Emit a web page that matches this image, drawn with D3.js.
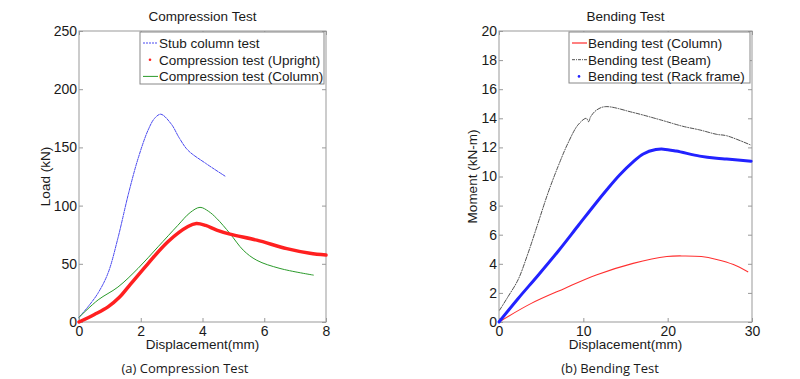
<!DOCTYPE html>
<html lang="en">
<head>
    <meta charset="UTF-8">
    <title>Compression and Bending Tests</title>
    <script src="https://d3js.org/d3.v7.min.js"></script>
    <style>
        body { margin: 0; background: #fff; }
        svg { display: block; }
        .tick text { font-family: "Liberation Sans", Arial, sans-serif; font-size: 14px; fill: #1a1a1a; }
        .tick line { stroke: #999; }
        .lbl { font-family: "Liberation Sans", Arial, sans-serif; font-size: 13.5px; fill: #1a1a1a; }
        .cap { font-family: "Open Sans", Lato, sans-serif; font-size: 13px; fill: #1a1a1a; }
    </style>
</head>
<body>
<div id="chart"></div>
<script>
    // ---- compression test data (displacement mm, load kN) ----
    var stubX = [0, 0.29, 0.62, 0.94, 1.26, 1.6, 1.92, 2.24, 2.45, 2.65, 2.99, 3.25, 3.53, 4.12, 4.75];
    var stubY = [4, 13, 25, 42, 72, 110, 141, 165, 175, 178.5, 170, 158, 147.5, 136, 125];

    var uprightX = [0, 0.5, 0.94, 1.3, 1.59, 2.23, 2.88, 3.53, 3.8, 4.1, 4.46, 4.89, 5.76, 6.73, 7.48, 8.0];
    var uprightY = [0, 6.5, 13, 21, 30, 50, 69, 82, 84.6, 83, 79, 75.5, 70.3, 63, 59, 57.5];

    var columnX = [0, 0.62, 1.26, 1.91, 2.56, 3.2, 3.6, 3.92, 4.2, 4.46, 4.89, 5.32, 5.76, 6.51, 7.59];
    var columnY = [4, 19, 30, 46, 64.6, 83, 94, 98.5, 95, 89, 76, 61.7, 53, 46, 40.3];

    // ---- bending test data (displacement mm, moment kN-m) ----
    var bendColX = [0, 3.83, 7.78, 11.53, 15.9, 19.9, 22, 24, 25.8, 27.8, 29.5];
    var bendColY = [0, 1.28, 2.31, 3.23, 4.03, 4.5, 4.54, 4.5, 4.3, 3.95, 3.45];

    var beamX = [0.08, 1.07, 2.25, 3.44, 4.62, 5.8, 6.99, 8.17, 9.36, 10.34, 10.63, 10.86, 11.53, 12.6, 15.9, 19.1, 21.8, 23.8, 25.8, 27, 29.9];
    var beamY = [0.82, 1.74, 2.89, 4.72, 6.78, 8.85, 10.67, 12.28, 13.54, 14.0, 13.77, 14.1, 14.55, 14.8, 14.4, 13.9, 13.45, 13.2, 12.9, 12.8, 12.15];

    var rackX = [0, 2.25, 4.62, 6.99, 9.36, 11.53, 12.76, 14.3, 15.9, 17.1, 18.6, 19.5, 21, 23.8, 25.8, 27, 29.9];
    var rackY = [0, 1.6, 3.2, 4.85, 6.6, 8.2, 9.07, 10.1, 11.0, 11.55, 11.85, 11.88, 11.75, 11.4, 11.25, 11.2, 11.05];

    var compTicksX = [0, 2, 4, 6, 8];
    var compTicksY = [0, 50, 100, 150, 200, 250];
    var bendTicksX = [0, 10, 20, 30];
    var bendTicksY = [0, 2, 4, 6, 8, 10, 12, 14, 16, 18, 20];

    var compLegend = ['Stub column test', 'Compression test (Upright)', 'Compression test (Column)'];
    var bendLegend = ['Bending test (Column)', 'Bending test (Beam)', 'Bending test (Rack frame)'];

    function zip(xs, ys) {
        return xs.map(function (x, i) { return [x, ys[i]]; });
    }

    var svg = d3.select('#chart')
        .append('svg')
        .attr('width', 800)
        .attr('height', 379);

    svg.append('rect').attr('width', 800).attr('height', 379).attr('fill', '#fff');

    // draws one MATLAB style panel, returns scales + group
    function panel(opt) {
        var x = d3.scaleLinear().domain(opt.xDomain).range([opt.left, opt.right]);
        var y = d3.scaleLinear().domain(opt.yDomain).range([opt.bottom, opt.top]);
        var g = svg.append('g');

        g.append('g')
            .attr('transform', 'translate(0,' + opt.bottom + ')')
            .call(d3.axisBottom(x).tickValues(opt.xTicks).tickSize(-4).tickPadding(4).tickSizeOuter(0))
            .call(function (a) { a.select('.domain').remove(); });
        g.append('g')
            .attr('transform', 'translate(' + opt.left + ',0)')
            .call(d3.axisLeft(y).tickValues(opt.yTicks).tickSize(-4).tickPadding(2).tickSizeOuter(0))
            .call(function (a) { a.select('.domain').remove(); });
        g.append('g')
            .attr('transform', 'translate(0,' + opt.top + ')')
            .call(d3.axisTop(x).tickValues(opt.xTicks).tickSize(-4).tickFormat('').tickSizeOuter(0))
            .call(function (a) { a.select('.domain').remove(); });
        g.append('g')
            .attr('transform', 'translate(' + opt.right + ',0)')
            .call(d3.axisRight(y).tickValues(opt.yTicks).tickSize(-4).tickFormat('').tickSizeOuter(0))
            .call(function (a) { a.select('.domain').remove(); });

        g.append('rect')
            .attr('x', opt.left).attr('y', opt.top)
            .attr('width', opt.right - opt.left).attr('height', opt.bottom - opt.top)
            .attr('fill', 'none').attr('stroke', '#999').attr('stroke-width', 1);

        var cx = (opt.left + opt.right) / 2;
        g.append('text').attr('class', 'lbl').attr('text-anchor', 'middle')
            .attr('x', cx).attr('y', 21).text(opt.title);
        g.append('text').attr('class', 'lbl').attr('text-anchor', 'middle')
            .attr('x', cx).attr('y', 349).text('Displacement(mm)');
        g.append('text').attr('class', 'lbl').attr('text-anchor', 'middle')
            .attr('transform', 'translate(' + opt.yLabelX + ',' + ((opt.top + opt.bottom) / 2) + ') rotate(-90)')
            .text(opt.yLabel);
        g.append('text').attr('class', 'cap').attr('text-anchor', 'middle')
            .attr('x', opt.capX).attr('y', 373).text(opt.caption);

        return { x: x, y: y, g: g };
    }

    function drawLine(p, data, color, width, dash) {
        var line = d3.line()
            .x(function (d) { return p.x(d[0]); })
            .y(function (d) { return p.y(d[1]); })
            .curve(d3.curveCatmullRom.alpha(0.5));
        p.g.append('path')
            .datum(data)
            .attr('fill', 'none')
            .attr('stroke', color)
            .attr('stroke-width', width)
            .attr('stroke-linejoin', 'round')
            .attr('stroke-linecap', 'round')
            .attr('stroke-dasharray', dash || null)
            .attr('d', line);
    }

    function legend(p, box, names, styles) {
        var lg = p.g.append('g');
        lg.append('rect')
            .attr('x', box.x).attr('y', box.y).attr('width', box.w).attr('height', box.h)
            .attr('fill', '#fff').attr('stroke', '#888').attr('stroke-width', 1);
        names.forEach(function (n, i) {
            var cy = box.y + 11 + i * 16.7;
            var s = styles[i];
            if (s.dot) {
                lg.append('circle').attr('cx', box.x + 10).attr('cy', cy).attr('r', 1.3).attr('fill', s.color);
            } else {
                lg.append('line')
                    .attr('x1', box.x + 3).attr('x2', box.x + 18).attr('y1', cy).attr('y2', cy)
                    .attr('stroke', s.color).attr('stroke-width', s.width)
                    .attr('stroke-dasharray', s.dash || null);
            }
            lg.append('text').attr('class', 'lbl')
                .attr('x', box.x + 19).attr('y', cy + 5).text(n);
        });
    }

    // ---- (a) compression ----
    var pa = panel({
        left: 79, right: 326, top: 31, bottom: 322,
        xDomain: [0, 8], yDomain: [0, 250],
        xTicks: compTicksX, yTicks: compTicksY,
        title: 'Compression Test', yLabel: 'Load (kN)', yLabelX: 50,
        caption: '(a) Compression Test', capX: 185
    });
    drawLine(pa, zip(stubX, stubY), '#4848f0', 1, '3,1.2');
    drawLine(pa, zip(columnX, columnY), '#2a9a2a', 1);
    drawLine(pa, zip(uprightX, uprightY), '#ff2020', 3.5);
    legend(pa, { x: 140, y: 32, w: 184, h: 52 }, compLegend, [
        { color: '#4848f0', width: 1, dash: '2,1' },
        { color: '#ff2020', dot: true },
        { color: '#2a9a2a', width: 1 }
    ]);

    // ---- (b) bending ----
    var pb = panel({
        left: 499, right: 752, top: 31, bottom: 322,
        xDomain: [0, 30], yDomain: [0, 20],
        xTicks: bendTicksX, yTicks: bendTicksY,
        title: 'Bending Test', yLabel: 'Moment (kN-m)', yLabelX: 477,
        caption: '(b) Bending Test', capX: 610
    });
    drawLine(pb, zip(bendColX, bendColY), '#ff3030', 1.1);
    drawLine(pb, zip(beamX, beamY), '#222', 0.8, '4,1.5,1,1.5');
    drawLine(pb, zip(rackX, rackY), '#2222ff', 3);
    legend(pb, { x: 569, y: 32, w: 181, h: 51 }, bendLegend, [
        { color: '#ff8080', width: 2 },
        { color: '#222', width: 0.8, dash: '3,1,1,1' },
        { color: '#2222ff', dot: true }
    ]);
</script>
</body>
</html>
